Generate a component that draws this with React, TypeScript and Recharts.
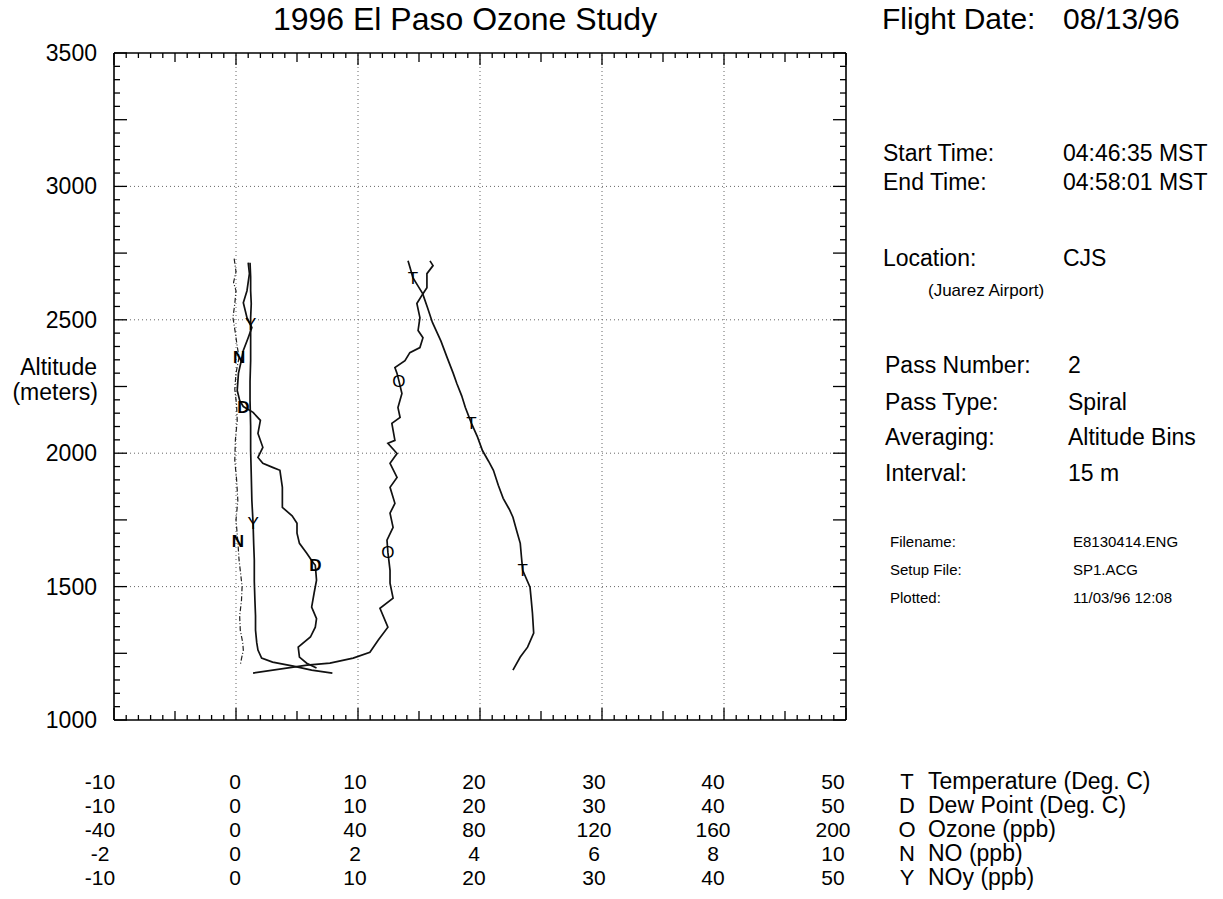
import { LineChart, Line, XAxis, YAxis, ReferenceLine } from 'recharts'

const FONT = '"Liberation Sans", Arial, Helvetica, sans-serif'

// Temperature (deg C) by altitude (m)
const TEMP_ALT = [2721, 2690, 2658, 2628, 2598, 2545, 2490, 2420, 2359, 2300, 2261, 2215, 2171, 2112, 2060, 2010, 1970, 1936, 1880, 1831, 1790, 1760, 1710, 1662, 1610, 1561, 1498, 1450, 1400, 1326, 1273, 1236, 1187]
const TEMP = [14.1, 14.3, 14.5, 14.9, 15.3, 15.7, 16.1, 16.8, 17.3, 17.8, 18.1, 18.5, 18.8, 19.3, 19.8, 20.2, 20.7, 21.1, 21.5, 21.9, 22.4, 22.7, 23.0, 23.3, 23.4, 23.5, 24.1, 24.2, 24.3, 24.4, 23.9, 23.3, 22.7]
const TEMP_MARKS = [2658, 2112, 1561]

// Dew point (deg C)
const DEW_ALT = [2714, 2673, 2609, 2564, 2508, 2471, 2433, 2385, 2340, 2299, 2235, 2198, 2175, 2153, 2123, 2074, 2022, 1984, 1962, 1947, 1936, 1872, 1797, 1765, 1737, 1700, 1662, 1625, 1591, 1580, 1524, 1475, 1423, 1380, 1348, 1311, 1273, 1236, 1213, 1195]
const DEW = [1.0, 1.1, 0.9, 0.6, 0.9, 1.3, 1.0, 0.6, 0.4, 0.2, 0.1, 0.3, 0.6, 1.4, 2.0, 1.8, 2.2, 1.8, 2.2, 3.0, 3.6, 3.8, 3.8, 4.6, 5.0, 5.0, 5.2, 5.8, 6.3, 6.5, 6.6, 6.4, 6.2, 6.6, 6.5, 6.1, 5.1, 5.2, 5.8, 6.6]
const DEW_MARKS = [2175, 1580]

// Ozone (ppb)
const OZONE_ALT = [2721, 2703, 2673, 2620, 2598, 2561, 2508, 2460, 2433, 2396, 2377, 2347, 2321, 2299, 2272, 2224, 2171, 2134, 2112, 2048, 2037, 1999, 1962, 1909, 1872, 1812, 1775, 1722, 1674, 1629, 1561, 1513, 1457, 1419, 1348, 1299, 1254, 1232, 1213, 1206, 1176]
const OZONE = [63.6, 64.6, 62.6, 62.6, 61.3, 59.3, 60.3, 59.7, 61.3, 60.3, 57.0, 55.4, 52.1, 52.8, 53.4, 54.4, 53.1, 53.8, 51.1, 52.1, 49.8, 52.8, 50.5, 52.8, 50.5, 52.1, 50.5, 51.5, 49.5, 49.8, 50.5, 50.5, 51.5, 47.2, 49.8, 46.6, 43.9, 38.4, 30.8, 23.3, 5.6]
const OZONE_MARKS = [2272, 1629]

// NO (ppb)
const NO_ALT = [2729, 2680, 2640, 2609, 2560, 2508, 2450, 2400, 2359, 2300, 2240, 2180, 2123, 2050, 1973, 1900, 1823, 1750, 1670, 1600, 1561, 1500, 1449, 1390, 1337, 1290, 1262, 1230, 1206]
const NO = [-0.03, 0.0, -0.04, 0.0, -0.02, -0.05, -0.01, 0.02, 0.05, 0.0, -0.02, 0.01, 0.02, -0.01, -0.02, 0.01, 0.03, 0.0, 0.03, 0.05, 0.07, 0.1, 0.09, 0.06, 0.07, 0.11, 0.12, 0.09, 0.07]
const NO_MARKS = [2359, 1670]

// NOy (ppb)
const NOY_ALT = [2714, 2660, 2609, 2560, 2508, 2486, 2400, 2347, 2270, 2198, 2100, 2010, 1920, 1823, 1737, 1660, 1599, 1520, 1449, 1390, 1337, 1290, 1262, 1232, 1217, 1202, 1187, 1176]
const NOY = [1.15, 1.2, 1.2, 1.25, 1.2, 1.2, 1.2, 1.2, 1.15, 1.15, 1.2, 1.2, 1.25, 1.3, 1.4, 1.45, 1.5, 1.5, 1.55, 1.6, 1.6, 1.7, 1.8, 2.1, 3.0, 4.7, 6.2, 7.9]
const NOY_MARKS = [2486, 1737]

// tick label rows under the plot
const T_LABELS = ['-10', '0', '10', '20', '30', '40', '50']
const D_LABELS = ['-10', '0', '10', '20', '30', '40', '50']
const O_LABELS = ['-40', '0', '40', '80', '120', '160', '200']
const N_LABELS = ['-2', '0', '2', '4', '6', '8', '10']
const Y_LABELS = ['-10', '0', '10', '20', '30', '40', '50']
const LABEL_ROWS = [T_LABELS, D_LABELS, O_LABELS, N_LABELS, Y_LABELS]
const LEGEND = [
  ['T', 'Temperature (Deg. C)'],
  ['D', 'Dew Point  (Deg. C)'],
  ['O', 'Ozone (ppb)'],
  ['N', 'NO (ppb)'],
  ['Y', 'NOy (ppb)'],
]

const ALT_LABELS = [1000, 1500, 2000, 2500, 3000, 3500]
const X_GRID = [0, 10, 20, 30, 40]
const ALT_GRID = [1500, 2000, 2500, 3000]
const X_TICKS = Array.from({ length: 61 }, (_, i) => i - 10)
const ALT_TICKS = Array.from({ length: 51 }, (_, i) => 1000 + i * 50)

const INFO_TOP = [
  ['Start Time:', '04:46:35 MST', 161],
  ['End Time:', '04:58:01 MST', 190],
  ['Location:', 'CJS', 266],
]
const INFO_PASS = [
  ['Pass Number:', '2', 373],
  ['Pass Type:', 'Spiral', 410],
  ['Averaging:', 'Altitude Bins', 445],
  ['Interval:', '15 m', 481],
]
const INFO_FILE = [
  ['Filename:', 'E8130414.ENG', 547],
  ['Setup File:', 'SP1.ACG', 575],
  ['Plotted:', '11/03/96 12:08', 603],
]

// baselines of the five label rows below the x axis, and the small
// sideways nudge each label column has in the original table
const ROW_OFFSETS = [69, 93, 117, 141, 165]
const COL_NUDGE = [-14, -1, -3, -6, -8, -11, -13]

const zip = (alt: number[], vals: number[]) => alt.map((a, i) => ({ alt: a, v: vals[i] }))

const xTickLen = (v: number) => (v % 10 === 0 ? 12 : v % 5 === 0 ? 9 : 5)
const yTickLen = (v: number) => (v % 250 === 0 ? 13 : 6)

function BottomTick(props: any) {
  const { x, y, payload } = props
  const v = payload.value
  const col = (v + 10) / 10
  return (
    <g>
      <line x1={x} x2={x} y1={y} y2={y - xTickLen(v)} stroke="#000" strokeWidth={1.3} />
      {v % 10 === 0 &&
        LABEL_ROWS.map((row, i) => (
          <text key={i} x={x + COL_NUDGE[col]} y={y + ROW_OFFSETS[i]} textAnchor="middle" fontSize={21} fontFamily={FONT} fill="#000">
            {row[col]}
          </text>
        ))}
    </g>
  )
}

function TopTick(props: any) {
  const { x, y, payload } = props
  return <line x1={x} x2={x} y1={y} y2={y + xTickLen(payload.value)} stroke="#000" strokeWidth={1.3} />
}

function LeftTick(props: any) {
  const { x, y, payload } = props
  const v = payload.value
  return (
    <g>
      <line x1={x} x2={x + yTickLen(v)} y1={y} y2={y} stroke="#000" strokeWidth={1.3} />
      {ALT_LABELS.includes(v) && (
        <text x={x - 17} y={y + 8} textAnchor="end" fontSize={23} fontFamily={FONT} fill="#000">
          {v}
        </text>
      )}
    </g>
  )
}

function RightTick(props: any) {
  const { x, y, payload } = props
  return <line x1={x} x2={x - yTickLen(payload.value)} y1={y} y2={y} stroke="#000" strokeWidth={1.3} />
}

const markDot = (letter: string, marks: number[], bold = false) => (p: any) => {
  const key = `${letter}-${p.index}`
  if (!marks.includes(p.payload.alt)) return <g key={key} />
  return (
    <text key={key} x={p.cx} y={p.cy + 6} textAnchor="middle" fontSize={17} fontWeight={bold ? 'bold' : 'normal'}
      fontFamily={FONT} fill="#000">
      {letter}
    </text>
  )
}

const axisLine = { stroke: '#000', strokeWidth: 1.6 }

export default function App() {
  const tempData = zip(TEMP_ALT, TEMP)
  const dewData = zip(DEW_ALT, DEW)
  const ozoneData = zip(OZONE_ALT, OZONE)
  const noData = zip(NO_ALT, NO)
  const noyData = zip(NOY_ALT, NOY)

  return (
    <div style={{ position: 'absolute', left: 0, top: 0, width: 1223, height: 899, background: '#fff', fontFamily: FONT }}>
      <LineChart width={1223} height={899} layout="vertical" margin={{ top: 52, right: 376, bottom: 178, left: 113 }}>
        <XAxis xAxisId="t" type="number" domain={[-10, 50]} allowDataOverflow ticks={X_TICKS} interval={0}
          height={1} tickSize={0} tickMargin={0} axisLine={axisLine} tickLine={false} tick={(p: any) => <BottomTick {...p} />} />
        <XAxis xAxisId="top" orientation="top" type="number" domain={[-10, 50]} allowDataOverflow ticks={X_TICKS} interval={0}
          height={1} tickSize={0} tickMargin={0} axisLine={axisLine} tickLine={false} tick={(p: any) => <TopTick {...p} />} />
        <XAxis xAxisId="o" orientation="top" type="number" domain={[-40, 200]} allowDataOverflow hide height={0} />
        <XAxis xAxisId="n" orientation="top" type="number" domain={[-2, 10]} allowDataOverflow hide height={0} />
        <YAxis yAxisId="alt" type="number" dataKey="alt" domain={[1000, 3500]} reversed allowDataOverflow ticks={ALT_TICKS} interval={0}
          width={1} tickSize={0} tickMargin={0} axisLine={axisLine} tickLine={false} tick={(p: any) => <LeftTick {...p} />} />
        <YAxis yAxisId="right" orientation="right" type="number" dataKey="alt" domain={[1000, 3500]} reversed allowDataOverflow ticks={ALT_TICKS} interval={0}
          width={1} tickSize={0} tickMargin={0} axisLine={axisLine} tickLine={false} tick={(p: any) => <RightTick {...p} />} />

        {X_GRID.map((v) => (
          <ReferenceLine key={`gx${v}`} xAxisId="t" yAxisId="alt" x={v} stroke="#666" strokeDasharray="1 3" />
        ))}
        {ALT_GRID.map((v) => (
          <ReferenceLine key={`gy${v}`} xAxisId="t" yAxisId="alt" y={v} stroke="#666" strokeDasharray="1 3" />
        ))}

        <Line data={noData} dataKey="v" xAxisId="n" yAxisId="alt" stroke="#222" strokeWidth={1.2} strokeDasharray="5 2 1 2"
          dot={markDot('N', NO_MARKS, true)} activeDot={false} isAnimationActive={false} />
        <Line data={noyData} dataKey="v" xAxisId="t" yAxisId="alt" stroke="#111" strokeWidth={1.7}
          dot={markDot('Y', NOY_MARKS)} activeDot={false} isAnimationActive={false} />
        <Line data={dewData} dataKey="v" xAxisId="t" yAxisId="alt" stroke="#111" strokeWidth={1.7}
          dot={markDot('D', DEW_MARKS, true)} activeDot={false} isAnimationActive={false} />
        <Line data={ozoneData} dataKey="v" xAxisId="o" yAxisId="alt" stroke="#111" strokeWidth={1.7}
          dot={markDot('O', OZONE_MARKS)} activeDot={false} isAnimationActive={false} />
        <Line data={tempData} dataKey="v" xAxisId="t" yAxisId="alt" stroke="#111" strokeWidth={1.7}
          dot={markDot('T', TEMP_MARKS)} activeDot={false} isAnimationActive={false} />
      </LineChart>

      <svg width={1223} height={899} style={{ position: 'absolute', left: 0, top: 0, pointerEvents: 'none' }} fontFamily={FONT} fill="#000">
        <text x={465} y={30} textAnchor="middle" fontSize={32}>1996 El Paso Ozone Study</text>
        <text x={882} y={29} fontSize={30}>Flight Date:</text>
        <text x={1063} y={29} fontSize={30}>08/13/96</text>

        <text x={97} y={375} textAnchor="end" fontSize={23}>Altitude</text>
        <text x={98} y={400} textAnchor="end" fontSize={23}>(meters)</text>

        {INFO_TOP.map(([label, value, y]) => (
          <g key={label as string}>
            <text x={883} y={y as number} fontSize={23}>{label}</text>
            <text x={1063} y={y as number} fontSize={23}>{value}</text>
          </g>
        ))}
        <text x={928} y={296} fontSize={17}>(Juarez Airport)</text>
        {INFO_PASS.map(([label, value, y]) => (
          <g key={label as string}>
            <text x={885} y={y as number} fontSize={23}>{label}</text>
            <text x={1068} y={y as number} fontSize={23}>{value}</text>
          </g>
        ))}
        {INFO_FILE.map(([label, value, y]) => (
          <g key={label as string}>
            <text x={890} y={y as number} fontSize={15}>{label}</text>
            <text x={1073} y={y as number} fontSize={15}>{value}</text>
          </g>
        ))}

        {LEGEND.map(([letter, name], i) => (
          <g key={letter}>
            <text x={907} y={720 + ROW_OFFSETS[i]} textAnchor="middle" fontSize={22}>{letter}</text>
            <text x={928} y={720 + ROW_OFFSETS[i]} fontSize={23}>{name}</text>
          </g>
        ))}
      </svg>
    </div>
  )
}
